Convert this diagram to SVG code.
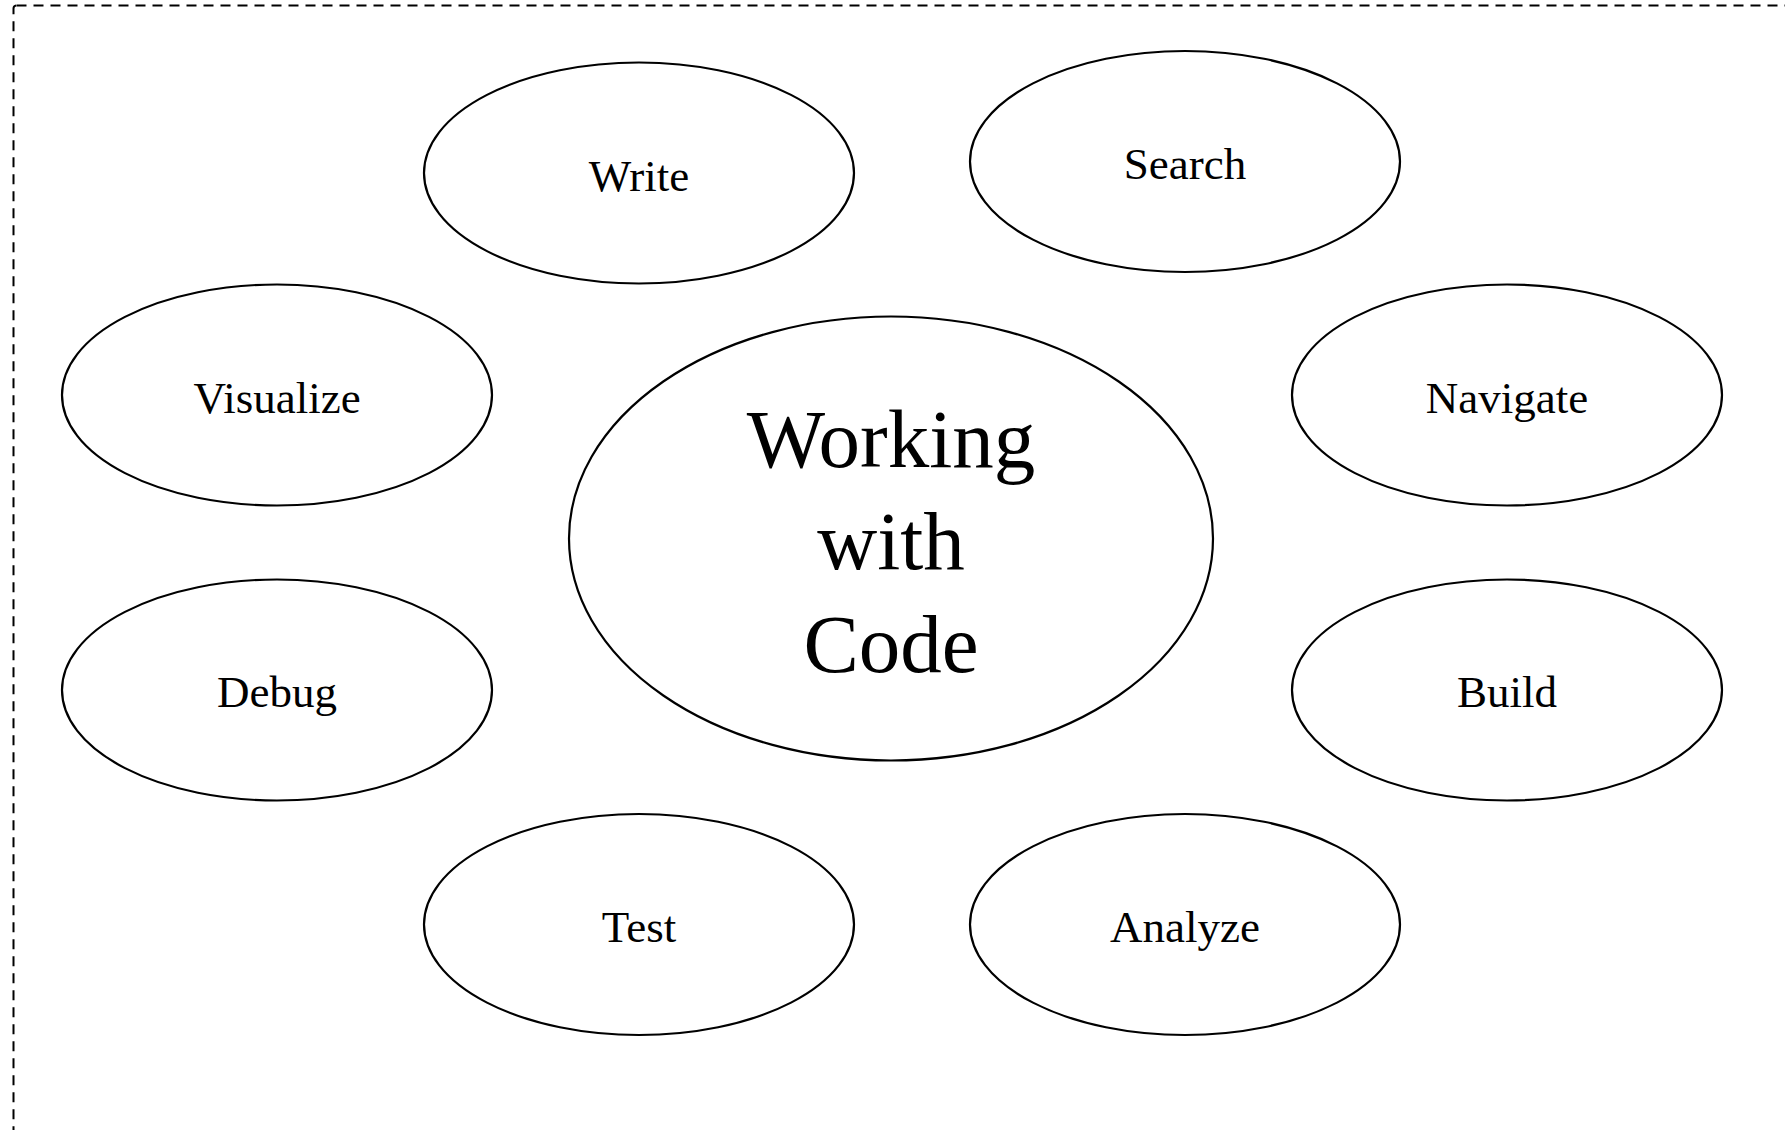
<svg xmlns="http://www.w3.org/2000/svg" width="1785" height="1130" viewBox="0 0 1785 1130">
<style>
.n{fill:#fff;stroke:#000;stroke-width:2.2}
.t{font-family:"Liberation Serif",serif;font-size:45px;fill:#000;text-anchor:middle}
.c{font-family:"Liberation Serif",serif;font-size:83px;fill:#000;text-anchor:middle}
.b{fill:none;stroke:#000;stroke-width:2;stroke-dasharray:10 7}
</style>
<rect width="1785" height="1130" fill="#fff"/>
<rect class="b" x="13.5" y="5.5" width="1800" height="1200" rx="3"/>
<g id="connectors"></g>
<g id="center"><ellipse class="n" cx="891" cy="538.5" rx="322" ry="222"/>
<text class="c" x="891" y="467">Working</text><text class="c" x="891" y="569">with</text><text class="c" x="891" y="672">Code</text></g>
<g id="write"><ellipse class="n" cx="639" cy="173" rx="215" ry="110.5"/><text class="t" x="639" y="191">Write</text></g>
<g id="search"><ellipse class="n" cx="1185" cy="161.5" rx="215" ry="110.5"/><text class="t" x="1185" y="179">Search</text></g>
<g id="visualize"><ellipse class="n" cx="277" cy="395" rx="215" ry="110.5"/><text class="t" x="277" y="413">Visualize</text></g>
<g id="navigate"><ellipse class="n" cx="1507" cy="395" rx="215" ry="110.5"/><text class="t" x="1507" y="413">Navigate</text></g>
<g id="debug"><ellipse class="n" cx="277" cy="690" rx="215" ry="110.5"/><text class="t" x="277" y="707">Debug</text></g>
<g id="build"><ellipse class="n" cx="1507" cy="690" rx="215" ry="110.5"/><text class="t" x="1507" y="707">Build</text></g>
<g id="test"><ellipse class="n" cx="639" cy="924.5" rx="215" ry="110.5"/><text class="t" x="639" y="942">Test</text></g>
<g id="analyze"><ellipse class="n" cx="1185" cy="924.5" rx="215" ry="110.5"/><text class="t" x="1185" y="942">Analyze</text></g>
</svg>
